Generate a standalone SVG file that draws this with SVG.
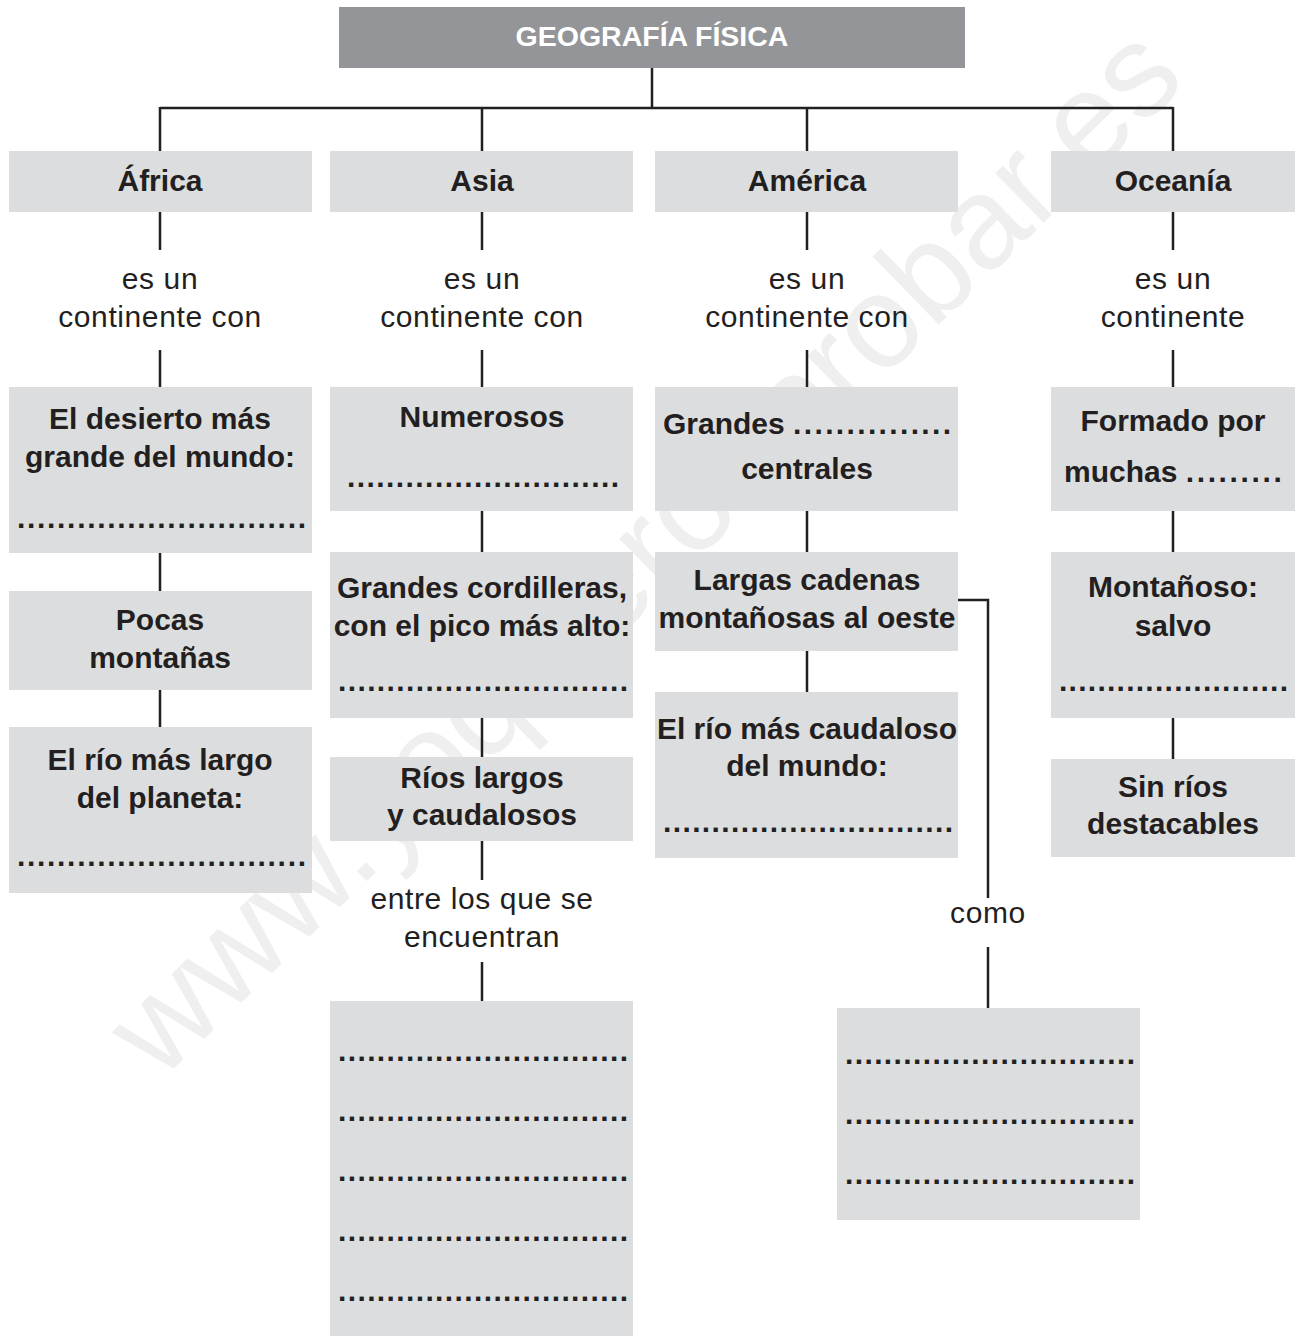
<svg xmlns="http://www.w3.org/2000/svg" width="1295" height="1336" viewBox="0 0 1295 1336">
<style>
.box{fill:#dcdddf}
.ttl{fill:#939598}
.b{font-family:"Liberation Sans",Arial,sans-serif;font-weight:bold;font-size:30px;fill:#231f20;text-anchor:middle}
.bs{font-family:"Liberation Sans",Arial,sans-serif;font-weight:bold;font-size:30px;fill:#231f20}
.r{font-family:"Liberation Sans",Arial,sans-serif;font-size:30px;fill:#231f20;text-anchor:middle;letter-spacing:0.6px}
.t{font-family:"Liberation Sans",Arial,sans-serif;font-weight:bold;font-size:28.5px;fill:#ffffff;text-anchor:middle}
.ln{stroke:#231f20;stroke-width:2.5;fill:none}
.wm{font-family:"Liberation Sans",Arial,sans-serif;font-size:131px;fill:#efefef}
</style>
<rect width="1295" height="1336" fill="#ffffff"/>
<text class="wm" transform="translate(160,1082) rotate(-44.2)">www.yoquieroaprobar.es</text>

<g id="connectors">
<path class="ln" d="M652,68V108M160,108H1173M160,107V151M482,107V151M807,107V151M1173,107V151"/>
<path class="ln" d="M160,212V250M482,212V250M807,212V250M1173,212V250"/>
<path class="ln" d="M160,350V387M482,350V387M807,350V387M1173,350V387"/>
<path class="ln" d="M160,553V591M160,690V727"/>
<path class="ln" d="M482,511V552M482,718V757M482,841V880M482,962V1001"/>
<path class="ln" d="M807,511V552M807,651V692"/>
<path class="ln" d="M958,600H988V898M988,947V1008"/>
<path class="ln" d="M1173,511V552M1173,718V759"/>
</g>

<g id="title">
<rect class="ttl" x="339" y="7" width="626" height="61"/>
<text class="t" x="652" y="46">GEOGRAFÍA FÍSICA</text>
</g>

<g id="africa">
<rect class="box" x="9" y="151" width="303" height="61"/>
<text class="b" x="160" y="191">África</text>
</g>
<g id="asia">
<rect class="box" x="330" y="151" width="303" height="61"/>
<text class="b" x="482" y="191">Asia</text>
</g>
<g id="america">
<rect class="box" x="655" y="151" width="303" height="61"/>
<text class="b" x="807" y="191">América</text>
</g>
<g id="oceania">
<rect class="box" x="1051" y="151" width="244" height="61"/>
<text class="b" x="1173" y="191">Oceanía</text>
</g>

<g id="lbl-africa"><text class="r" x="160" y="289">es un</text><text class="r" x="160" y="327">continente con</text></g>
<g id="lbl-asia"><text class="r" x="482" y="289">es un</text><text class="r" x="482" y="327">continente con</text></g>
<g id="lbl-america"><text class="r" x="807" y="289">es un</text><text class="r" x="807" y="327">continente con</text></g>
<g id="lbl-oceania"><text class="r" x="1173" y="289">es un</text><text class="r" x="1173" y="327">continente</text></g>

<g id="af-desierto">
<rect class="box" x="9" y="387" width="303" height="166"/>
<text class="b" x="160" y="429">El desierto más</text>
<text class="b" x="160" y="467">grande del mundo:</text>
<text class="bs" x="17" y="528" textLength="289" lengthAdjust="spacing">.............................</text>
</g>
<g id="af-pocas">
<rect class="box" x="9" y="591" width="303" height="99"/>
<text class="b" x="160" y="630">Pocas</text>
<text class="b" x="160" y="668">montañas</text>
</g>
<g id="af-rio">
<rect class="box" x="9" y="727" width="303" height="166"/>
<text class="b" x="160" y="770">El río más largo</text>
<text class="b" x="160" y="808">del planeta:</text>
<text class="bs" x="17" y="866" textLength="289" lengthAdjust="spacing">.............................</text>
</g>

<g id="as-numerosos">
<rect class="box" x="330" y="387" width="303" height="124"/>
<text class="b" x="482" y="427">Numerosos</text>
<text class="bs" x="347" y="487" textLength="272" lengthAdjust="spacing">............................</text>
</g>
<g id="as-cordilleras">
<rect class="box" x="330" y="552" width="303" height="166"/>
<text class="b" x="482" y="598">Grandes cordilleras,</text>
<text class="b" x="482" y="636">con el pico más alto:</text>
<text class="bs" x="338" y="691" textLength="290" lengthAdjust="spacing">..............................</text>
</g>
<g id="as-rios">
<rect class="box" x="330" y="757" width="303" height="84"/>
<text class="b" x="482" y="788">Ríos largos</text>
<text class="b" x="482" y="825">y caudalosos</text>
</g>
<g id="lbl-entre"><text class="r" x="482" y="909">entre los que se</text><text class="r" x="482" y="947">encuentran</text></g>
<g id="as-lista">
<rect class="box" x="330" y="1001" width="303" height="335"/>
<text class="bs" x="338" y="1061" textLength="290" lengthAdjust="spacing">..............................</text>
<text class="bs" x="338" y="1121" textLength="290" lengthAdjust="spacing">..............................</text>
<text class="bs" x="338" y="1181" textLength="290" lengthAdjust="spacing">..............................</text>
<text class="bs" x="338" y="1241" textLength="290" lengthAdjust="spacing">..............................</text>
<text class="bs" x="338" y="1301" textLength="290" lengthAdjust="spacing">..............................</text>
</g>

<g id="am-grandes">
<rect class="box" x="655" y="387" width="303" height="124"/>
<text class="bs" x="663" y="434">Grandes <tspan textLength="158" lengthAdjust="spacing">...............</tspan></text>
<text class="b" x="807" y="479">centrales</text>
</g>
<g id="am-cadenas">
<rect class="box" x="655" y="552" width="303" height="99"/>
<text class="b" x="807" y="590">Largas cadenas</text>
<text class="b" x="807" y="628">montañosas al oeste</text>
</g>
<g id="am-rio">
<rect class="box" x="655" y="692" width="303" height="166"/>
<text class="b" x="807" y="739">El río más caudaloso</text>
<text class="b" x="807" y="776">del mundo:</text>
<text class="bs" x="663" y="832" textLength="290" lengthAdjust="spacing">..............................</text>
</g>
<g id="lbl-como"><text class="r" x="988" y="923">como</text></g>
<g id="am-lista">
<rect class="box" x="837" y="1008" width="303" height="212"/>
<text class="bs" x="845" y="1064" textLength="290" lengthAdjust="spacing">..............................</text>
<text class="bs" x="845" y="1124" textLength="290" lengthAdjust="spacing">..............................</text>
<text class="bs" x="845" y="1184" textLength="290" lengthAdjust="spacing">..............................</text>
</g>

<g id="oc-formado">
<rect class="box" x="1051" y="387" width="244" height="124"/>
<text class="b" x="1173" y="431">Formado por</text>
<text class="bs" x="1064" y="482">muchas <tspan textLength="96" lengthAdjust="spacing">.........</tspan></text>
</g>
<g id="oc-montanoso">
<rect class="box" x="1051" y="552" width="244" height="166"/>
<text class="b" x="1173" y="597">Montañoso:</text>
<text class="b" x="1173" y="636">salvo</text>
<text class="bs" x="1059" y="691" textLength="229" lengthAdjust="spacing">........................</text>
</g>
<g id="oc-rios">
<rect class="box" x="1051" y="759" width="244" height="98"/>
<text class="b" x="1173" y="797">Sin ríos</text>
<text class="b" x="1173" y="834">destacables</text>
</g>
</svg>
